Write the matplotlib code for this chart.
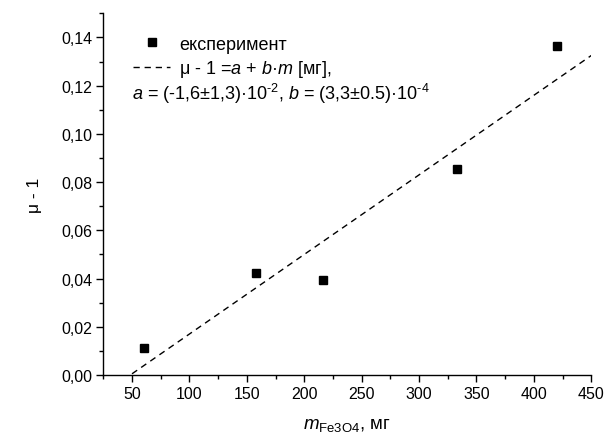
import matplotlib
matplotlib.use("Agg")
import matplotlib.pyplot as plt
import numpy as np
from matplotlib.ticker import MultipleLocator, FuncFormatter, FixedLocator

plt.rcParams['font.family'] = ['Liberation Sans', 'DejaVu Sans']
plt.rcParams['mathtext.fontset'] = 'custom'
plt.rcParams['mathtext.rm'] = 'Liberation Sans'
plt.rcParams['mathtext.it'] = 'Liberation Sans:italic'

# data
mass_mg = [60, 158, 216, 333, 420]
mu_minus_1 = [0.011, 0.0424, 0.0394, 0.0855, 0.1364]
fit_a = -0.016
fit_b = 3.3e-4
fit_range = [50, 450]
x_ticks = [50, 100, 150, 200, 250, 300, 350, 400, 450]
y_ticks = [0.00, 0.02, 0.04, 0.06, 0.08, 0.10, 0.12, 0.14]

fig = plt.figure(figsize=(6.06, 4.39), dpi=100)
ax = fig.add_axes([0.1705, 0.1435, 0.8052, 0.8239])

ax.plot(mass_mg, mu_minus_1, 's', color='black', markersize=6.3, label='експеримент',
        linestyle='none', zorder=3)
xf = np.array(fit_range, dtype=float)
ax.plot(xf, fit_a + fit_b * xf, '--', color='black', linewidth=1.0,
        dashes=(4.5, 3.5), label=r'μ - 1 =$a$ + $b$·$m$ [мг],')

ax.set_xlim(25, 450)
ax.set_ylim(0, 0.15)
ax.xaxis.set_major_locator(FixedLocator(x_ticks))
ax.xaxis.set_minor_locator(MultipleLocator(25))
ax.yaxis.set_major_locator(FixedLocator(y_ticks))
ax.yaxis.set_minor_locator(MultipleLocator(0.01))
ax.yaxis.set_major_formatter(FuncFormatter(lambda v, p: f"{v:.2f}".replace('.', ',')))

for s in ['top', 'right']:
    ax.spines[s].set_visible(False)
for s in ['left', 'bottom']:
    ax.spines[s].set_linewidth(1.0)

ax.tick_params(which='major', direction='out', length=5, width=1, labelsize=11.5, pad=3)
ax.tick_params(which='minor', direction='out', length=3, width=1)

ax.set_xlabel(r'$m_{\mathrm{Fe3O4}}$, мг', fontsize=13.5, labelpad=11)
ax.set_ylabel('μ - 1', fontsize=12.5, labelpad=14)

leg = ax.legend(loc='upper left', bbox_to_anchor=(0.061, 0.938), frameon=False,
                fontsize=13, handlelength=2.05, handletextpad=0.5,
                labelspacing=0.3, borderpad=0, borderaxespad=0, markerscale=1)
ax.text(0.059, 0.779,
        r'$a$ = (-1,6±1,3)·10$^{\text{-2}}$, $b$ = (3,3±0.5)·10$^{\text{-4}}$',
        transform=ax.transAxes, fontsize=13, va='center', ha='left')

fig.savefig('out.png', dpi=100)
